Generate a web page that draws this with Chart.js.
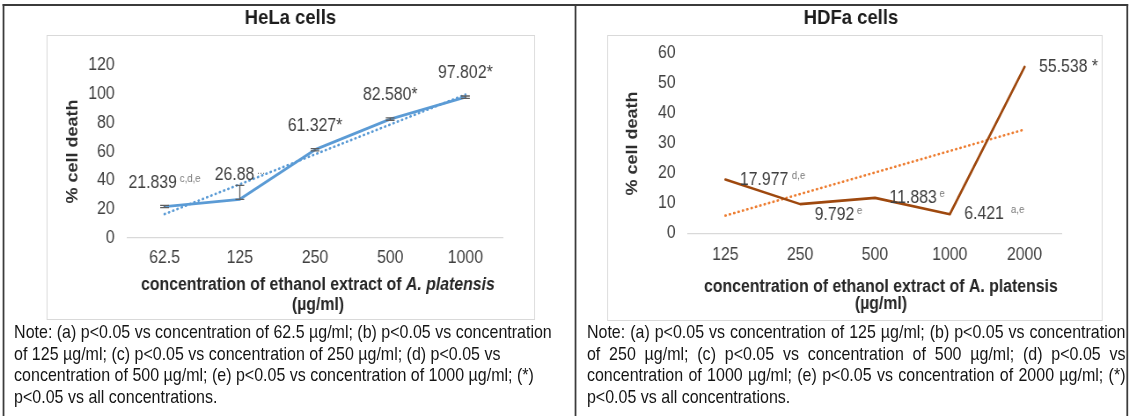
<!DOCTYPE html>
<html>
<head>
<meta charset="utf-8">
<script src="https://cdn.jsdelivr.net/npm/chart.js@4.4.1/dist/chart.umd.min.js"></script>
<style>
  html, body { margin: 0; padding: 0; background: #fff; overflow: hidden; }
  #page {
    position: absolute; left: 0; top: 0; width: 1284px; height: 416px;
    transform: scaleX(0.88); transform-origin: 0 0;
    font-family: "Liberation Sans", Arial, sans-serif;
  }
  .rule { position: absolute; background: #3b3b3b; }
  .frame { position: absolute; border: 1px solid #d9d9d9; box-sizing: border-box; }
  canvas { position: absolute; top: 0; }
  .note {
    position: absolute; top: 322px; font-size: 18.2px; line-height: 21.5px;
    color: #151515;
  }
  .note div { white-space: nowrap; }
  .note.just div { white-space: normal; text-align: justify; text-align-last: justify; }
  .note.just div:last-child { text-align-last: left; }
</style>
</head>
<body>
<div id="page">
  <div class="frame" style="left:53px; top:35px; width:555px; height:285px;"></div>
  <div class="frame" style="left:690px; top:35px; width:563px; height:286px;"></div>

  <canvas id="hela" width="644" height="320" style="left:8px;"></canvas>
  <canvas id="hdfa" width="622" height="320" style="left:656px;"></canvas>

  <div class="rule" style="left:3px; top:4px; width:1279px; height:2px;"></div>
  <div class="rule" style="left:3px; top:4px; width:2.4px; height:412px;"></div>
  <div class="rule" style="left:652.5px; top:4px; width:2.4px; height:412px;"></div>
  <div class="rule" style="left:1279.5px; top:4px; width:2.4px; height:412px;"></div>

  <div class="note" style="left:16px; width:620px;">
    <div>Note: (a) p&lt;0.05 vs concentration of 62.5 µg/ml; (b) p&lt;0.05 vs concentration</div>
    <div>of 125 µg/ml; (c) p&lt;0.05 vs concentration of 250 µg/ml; (d) p&lt;0.05 vs</div>
    <div>concentration of 500 µg/ml; (e) p&lt;0.05 vs concentration of 1000 µg/ml; (*)</div>
    <div>p&lt;0.05 vs all concentrations.</div>
  </div>
  <div class="note just" style="left:667px; width:612px;">
    <div>Note: (a) p&lt;0.05 vs concentration of 125 µg/ml; (b) p&lt;0.05 vs concentration</div>
    <div>of 250 µg/ml; (c) p&lt;0.05 vs concentration of 500 µg/ml; (d) p&lt;0.05 vs</div>
    <div>concentration of 1000 µg/ml; (e) p&lt;0.05 vs concentration of 2000 µg/ml; (*)</div>
    <div>p&lt;0.05 vs all concentrations.</div>
  </div>
</div>

<script>
// ---- HeLa cells ----
const concHeLa = ['62.5', '125', '250', '500', '1000'];
const deathHeLa = [21.839, 26.88, 61.327, 82.580, 97.802];
const digitsHeLa = [3, 2, 3, 3, 3];
const markHeLa = ['', '', '*', '*', '*'];
const supHeLa = ['c,d,e', '...', '', '', ''];
const errUpHeLa = [0.8, 9.7, 0.8, 0.8, 0.8];
const errDownHeLa = [0.8, 0, 0.8, 0.8, 0.8];
const trendHeLa = [16.6, 37.3, 58.1, 78.8, 99.6];
const ticksHeLa = [0, 20, 40, 60, 80, 100, 120];

// ---- HDFa cells ----
const concHDFa = ['125', '250', '500', '1000', '2000'];
const deathHDFa = [17.977, 9.792, 11.883, 6.421, 55.538];
const digitsHDFa = [3, 3, 3, 3, 3];
const markHDFa = ['', '', '', '', ' *'];
const supHDFa = ['d,e', 'e', 'e', 'a,e', ''];
const trendHDFa = [5.97, 13.15, 20.32, 27.50, 34.67];
const ticksHDFa = [0, 10, 20, 30, 40, 50, 60];

const FAMILY = '"Liberation Sans", Arial, sans-serif';
Chart.defaults.font.family = FAMILY;

// value labels with a small superscript tag after the number
const pointTags = {
  id: 'pointTags',
  afterDatasetsDraw(chart, args, o) {
    const meta = chart.getDatasetMeta(0);
    const ctx = chart.ctx;
    ctx.save();
    ctx.textAlign = 'left';
    ctx.textBaseline = 'middle';
    meta.data.forEach((pt, i) => {
      const v = chart.data.datasets[0].data[i];
      const main = v.toFixed(o.digits[i]) + o.marks[i];
      const sup = o.sups[i];
      ctx.font = '18px ' + FAMILY;
      const wm = ctx.measureText(main).width;
      ctx.font = '11px ' + FAMILY;
      const gap = o.gaps ? o.gaps[i] : 3;
      const ws = sup ? ctx.measureText(sup).width + gap : 0;
      let x0, yc;
      if (o.place === 'above') {
        x0 = pt.x - (wm + ws) / 2;
        yc = pt.y - o.offset;
      } else {
        x0 = pt.x + o.offset;
        yc = pt.y + (o.dy ? o.dy[i] : 0);
      }
      ctx.font = '18px ' + FAMILY;
      ctx.fillStyle = '#404040';
      ctx.fillText(main, x0, yc);
      if (sup) {
        ctx.font = '11px ' + FAMILY;
        ctx.fillStyle = '#7a7a7a';
        ctx.fillText(sup, x0 + wm + gap, yc - 4);
      }
    });
    ctx.restore();
  }
};

// vertical error bars with caps
const errorBars = {
  id: 'errorBars',
  afterDatasetsDraw(chart, args, o) {
    if (!o.up) return;
    const meta = chart.getDatasetMeta(0);
    const y = chart.scales.y;
    const ctx = chart.ctx;
    ctx.save();
    ctx.strokeStyle = '#5f5f5f';
    ctx.lineWidth = 1.3;
    meta.data.forEach((pt, i) => {
      const v = chart.data.datasets[0].data[i];
      const yt = y.getPixelForValue(v + o.up[i]);
      const yb = y.getPixelForValue(v - o.down[i]);
      ctx.beginPath();
      ctx.moveTo(pt.x, yt); ctx.lineTo(pt.x, yb);
      ctx.moveTo(pt.x - 5, yt); ctx.lineTo(pt.x + 5, yt);
      ctx.moveTo(pt.x - 5, yb); ctx.lineTo(pt.x + 5, yb);
      ctx.stroke();
    });
    ctx.restore();
  }
};

// two-line category axis title, with optional italic runs
const axisCaption = {
  id: 'axisCaption',
  afterDraw(chart, args, o) {
    const ctx = chart.ctx;
    const a = chart.chartArea;
    const cx = (a.left + a.right) / 2 + o.dx;
    ctx.save();
    ctx.textBaseline = 'middle';
    ctx.textAlign = 'left';
    ctx.fillStyle = '#262626';
    o.lines.forEach((runs, li) => {
      let total = 0;
      runs.forEach(r => {
        ctx.font = (r.italic ? 'italic ' : '') + 'bold 18px ' + FAMILY;
        total += ctx.measureText(r.t).width;
      });
      let x = cx - total / 2;
      runs.forEach(r => {
        ctx.font = (r.italic ? 'italic ' : '') + 'bold 18px ' + FAMILY;
        ctx.fillText(r.t, x, o.ys[li]);
        x += ctx.measureText(r.t).width;
      });
    });
    ctx.restore();
  }
};

function makeChart(id, cfg) {
  return new Chart(document.getElementById(id), {
    type: 'line',
    data: {
      labels: cfg.labels,
      datasets: [
        {
          data: cfg.values,
          borderColor: cfg.lineColor,
          borderWidth: cfg.lineWidth,
          pointRadius: 0,
          tension: 0,
          borderJoinStyle: 'round',
          borderCapStyle: 'round',
          fill: false
        },
        {
          data: cfg.trend,
          borderColor: cfg.trendColor,
          borderWidth: 2.6,
          borderDash: [0.5, 4.6],
          borderCapStyle: 'round',
          pointRadius: 0,
          tension: 0,
          fill: false
        }
      ]
    },
    options: {
      responsive: false,
      animation: false,
      events: [],
      devicePixelRatio: 1,
      layout: { padding: 0 },
      plugins: {
        legend: { display: false },
        tooltip: { enabled: false },
        title: {
          display: true,
          text: cfg.title,
          color: '#1c1c1c',
          font: { size: 21, weight: 'bold' },
          padding: { top: 5.4, bottom: cfg.titleGap }
        },
        pointTags: cfg.tags,
        errorBars: cfg.errors || {},
        axisCaption: cfg.caption
      },
      scales: {
        x: {
          type: 'category',
          offset: true,
          grid: { display: false, drawTicks: false },
          border: { display: true, color: '#d9d9d9', width: 1.2 },
          ticks: { color: '#404040', font: { size: 18 }, padding: cfg.xPad, maxRotation: 0 },
          afterFit: s => { s.height = cfg.xHeight; }
        },
        y: {
          min: cfg.yTicks[0],
          max: cfg.yTicks[cfg.yTicks.length - 1],
          afterBuildTicks: s => { s.ticks = cfg.yTicks.map(v => ({ value: v })); },
          grid: { display: false, drawTicks: false },
          border: { display: false },
          ticks: { color: '#404040', font: { size: 18 }, padding: 14 },
          title: {
            display: true,
            text: '% cell death',
            color: '#2e2e2e',
            font: { size: 18, weight: 'bold' },
            padding: { top: cfg.yTitleTop, bottom: 0 }
          },
          afterFit: s => { s.width = cfg.yWidth; }
        },
        // empty right-hand margin of the plot
        side: {
          type: 'linear',
          position: 'right',
          display: true,
          grid: { display: false, drawTicks: false },
          border: { display: false },
          ticks: { display: false },
          afterFit: s => { s.width = cfg.padRight; }
        }
      }
    },
    plugins: [pointTags, errorBars, axisCaption]
  });
}

makeChart('hela', {
  labels: concHeLa,
  values: deathHeLa,
  trend: trendHeLa,
  yTicks: ticksHeLa,
  title: 'HeLa cells',
  lineColor: '#5b9bd5',
  trendColor: '#5b9bd5',
  lineWidth: 2.8,
  padRight: 80.4,
  titleGap: 34.6,
  xHeight: 82,
  xPad: 9,
  yWidth: 136.3,
  yTitleTop: 64.1,
  tags: { place: 'above', offset: 24, digits: digitsHeLa, marks: markHeLa, sups: supHeLa },
  errors: { up: errUpHeLa, down: errDownHeLa },
  caption: {
    dx: 3.4,
    ys: [285, 305],
    lines: [
      [{ t: 'concentration of ethanol extract of ' }, { t: 'A. platensis', italic: true }],
      [{ t: '(µg/ml)' }]
    ]
  }
});

makeChart('hdfa', {
  labels: concHDFa,
  values: deathHDFa,
  trend: trendHDFa,
  yTicks: ticksHDFa,
  title: 'HDFa cells',
  lineColor: '#9e480e',
  trendColor: '#ed7d31',
  lineWidth: 2.6,
  padRight: 71.2,
  titleGap: 22.9,
  xHeight: 86.5,
  xPad: 11,
  yWidth: 125.8,
  yTitleTop: 52.5,
  tags: {
    place: 'right', offset: 16.5, dy: [0, 11, 0, 0, 0],
    digits: digitsHDFa, marks: markHDFa, sups: supHDFa, gaps: [4, 3, 3, 8, 3]
  },
  caption: {
    dx: 6.8,
    ys: [287, 304],
    lines: [
      [{ t: 'concentration of ethanol extract of A. platensis' }],
      [{ t: '(µg/ml)' }]
    ]
  }
});
</script>
</body>
</html>
